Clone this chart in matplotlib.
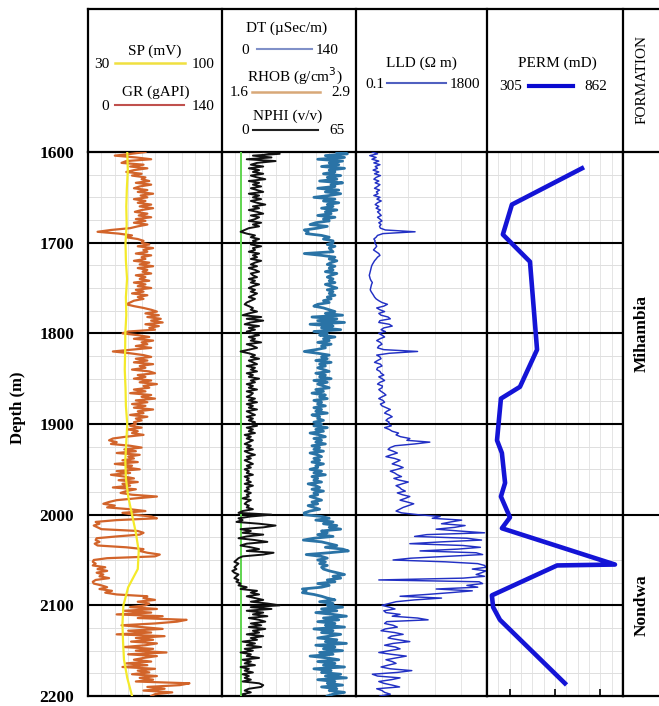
import numpy as np
import matplotlib
matplotlib.use("Agg")
import matplotlib.pyplot as plt

W, H = 659, 706
SERIF = ["Liberation Serif", "DejaVu Serif"]

# ---------------- log data (2 m sampling) ----------------
depth = np.arange(1600, 2201, 2)

gr = [60, 45, 28, 50, 66, 40, 35, 58, 44, 62,
      48, 40, 56, 46, 60, 56, 64, 50, 66, 54,
      48, 62, 52, 68, 55, 62, 48, 60, 52, 66,
      54, 68, 56, 49, 62, 53, 66, 50, 60, 48,
      62, 52, 44, 24, 10, 32, 46, 40, 52, 58,
      56, 64, 52, 68, 58, 62, 50, 66, 56, 60,
      48, 64, 54, 68, 52, 62, 57, 66, 50, 60,
      54, 64, 48, 60, 52, 66, 50, 58, 46, 62,
      52, 58, 48, 44, 40, 48, 58, 66, 72, 60,
      74, 62, 76, 66, 78, 60, 74, 64, 70, 42,
      36, 52, 64, 48, 68, 56, 62, 50, 66, 46,
      26, 44, 58, 66, 50, 62, 48, 68, 54, 60,
      46, 64, 70, 52, 60, 48, 66, 54, 72, 58,
      64, 48, 60, 44, 66, 56, 70, 50, 62, 46,
      60, 48, 68, 52, 58, 44, 62, 50, 56, 48,
      50, 44, 56, 42, 52, 46, 58, 40, 26, 22,
      30, 24, 44, 56, 38, 50, 30, 54, 42, 48,
      36, 52, 28, 46, 40, 54, 30, 44, 24, 38,
      48, 32, 52, 36, 44, 26, 50, 40, 34, 46,
      72, 50, 30, 22, 16, 28, 20, 44, 60, 36,
      48, 66, 72, 30, 8, 12, 6, 10, 14, 52,
      58, 54, 30, 9, 8, 12, 7, 10, 40, 58,
      54, 62, 75, 70, 20, 6, 5, 8, 5, 18,
      10, 20, 9, 16, 12, 22, 8, 5, 6, 14,
      20, 12, 25, 18, 30, 62, 58, 70, 52, 64,
      60, 44, 72, 38, 66, 30, 78, 52, 103, 93,
      70, 35, 56, 78, 42, 66, 30, 80, 50, 68,
      45, 72, 60, 38, 68, 50, 82, 42, 72, 58,
      48, 66, 40, 62, 36, 70, 52, 64, 46, 72,
      54, 68, 50, 106, 96, 62, 80, 58, 88, 70,
      66]

nphi = [20, 28, 15, 24, 12, 26, 17, 14, 20, 13,
        18, 15, 20, 14, 17, 21, 13, 18, 15, 19,
        14, 17, 20, 13, 18, 15, 19, 14, 17, 21,
        15, 18, 13, 17, 20, 14, 18, 16, 13, 19,
        15, 18, 13, 11, 9, 12, 16, 14, 18, 15,
        17, 14, 19, 15, 16, 13, 18, 15, 17, 14,
        19, 16, 14, 17, 13, 16, 18, 14, 15, 17,
        13, 16, 14, 18, 15, 13, 16, 14, 17, 15,
        13, 16, 14, 12, 11, 13, 15, 14, 17, 13,
        10, 19, 12, 20, 14, 11, 18, 13, 16, 12,
        15, 18, 13, 16, 14, 19, 12, 15, 17, 13,
        9, 13, 16, 14, 18, 13, 15, 17, 12, 16,
        14, 17, 12, 15, 13, 18, 14, 16, 12, 15,
        13, 17, 12, 15, 14, 12, 16, 13, 17, 12,
        15, 13, 17, 12, 14, 16, 12, 15, 13, 16,
        14, 17, 12, 15, 13, 16, 11, 14, 12, 15,
        13, 11, 14, 12, 15, 11, 13, 16, 12, 14,
        11, 13, 15, 12, 14, 11, 13, 12, 15, 11,
        13, 12, 14, 11, 15, 12, 13, 11, 14, 12,
        13, 10, 14, 12, 11, 13, 12, 15, 10, 8,
        24, 14, 8, 10, 7, 18, 26, 20, 9, 14,
        10, 20, 12, 8, 16, 22, 12, 9, 14, 18,
        12, 25, 20, 10, 8, 7, 6, 8, 7, 6,
        7, 5, 6, 8, 7, 6, 8, 7, 9, 8,
        12, 9, 17, 14, 18, 12, 16, 20, 14, 22,
        28, 14, 24, 12, 20, 15, 22, 13, 18, 21,
        14, 19, 13, 21, 15, 18, 12, 20, 14, 17,
        10, 16, 12, 19, 11, 15, 9, 14, 12, 18,
        10, 14, 11, 16, 9, 13, 11, 15, 10, 13,
        11, 14, 10, 18, 20, 19, 13, 11, 14, 10,
        12]

dt = [120, 131, 108, 128, 100, 126, 112, 122, 104, 128,
      112, 118, 106, 124, 110, 120, 102, 126, 114, 118,
      100, 122, 108, 124, 112, 96, 118, 106, 122, 110,
      116, 104, 120, 108, 114, 100, 118, 106, 112, 98,
      92, 110, 100, 86, 90, 88, 104, 112, 106, 116,
      116, 110, 118, 112, 114, 116, 86, 104, 118, 112,
      120, 114, 110, 118, 112, 116, 108, 120, 114, 110,
      116, 112, 118, 108, 114, 120, 110, 116, 112, 118,
      110, 114, 106, 112, 100, 96, 106, 112, 118, 108,
      126, 94, 120, 100, 128, 92, 116, 104, 124, 96,
      110, 102, 118, 106, 112, 100, 114, 104, 108, 98,
      86, 100, 112, 104, 110, 98, 114, 102, 108, 100,
      106, 112, 98, 108, 102, 114, 96, 110, 100, 106,
      112, 98, 106, 94, 108, 102, 110, 96, 104, 100,
      108, 96, 104, 98, 110, 94, 102, 100, 106, 96,
      104, 96, 110, 98, 106, 92, 102, 108, 96, 104,
      98, 108, 94, 102, 96, 106, 92, 100, 104, 96,
      102, 94, 106, 98, 100, 92, 104, 96, 108, 94,
      100, 96, 104, 90, 98, 102, 94, 106, 96, 100,
      92, 98, 104, 94, 100, 90, 96, 102, 92, 86,
      86, 104, 112, 98, 116, 106, 120, 112, 124, 104,
      110, 100, 116, 96, 85, 104, 112, 120, 108, 126,
      132, 112, 88, 104, 110, 100, 108, 102, 110, 104,
      106, 112, 120, 128, 116, 124, 110, 118, 100, 112,
      104, 84, 88, 84, 96, 104, 110, 118, 102, 116,
      110, 126, 104, 120, 98, 116, 130, 106, 122, 100,
      118, 108, 128, 96, 116, 104, 124, 112, 100, 120,
      108, 130, 98, 118, 106, 126, 102, 116, 92, 110,
      122, 100, 118, 106, 128, 96, 114, 104, 124, 108,
      130, 100, 118, 110, 126, 104, 120, 112, 128, 116,
      110]

lld = [0.34, 0.5, 0.28, 0.45, 0.33, 0.55, 0.38, 0.6, 0.42, 0.5,
       0.36, 0.55, 0.40, 0.62, 0.45, 0.38, 0.55, 0.42, 0.6, 0.5,
       0.40, 0.58, 0.46, 0.52, 0.38, 0.6, 0.48, 0.66, 0.5, 0.42,
       0.55, 0.45, 0.62, 0.5, 0.58, 0.66, 0.5, 0.6, 0.7, 0.55,
       0.65, 0.58, 0.62, 0.9, 8.3, 0.75, 0.5, 0.45, 0.38, 0.42,
       0.40, 0.44, 0.47, 0.42, 0.37, 0.45, 0.55, 0.6, 0.5, 0.45,
       0.40, 0.37, 0.34, 0.32, 0.31, 0.30, 0.29, 0.28, 0.27, 0.28,
       0.29, 0.31, 0.34, 0.32, 0.31, 0.30, 0.29, 0.31, 0.34, 0.37,
       0.40, 0.45, 0.55, 0.7, 1.05, 0.8, 0.47, 0.6, 0.85, 0.55,
       0.65, 1.1, 1.3, 0.6, 0.55, 1.2, 1.5, 0.8, 0.65, 0.9,
       0.55, 0.7, 0.85, 0.6, 0.47, 0.62, 0.7, 0.55, 0.5, 0.8,
       10, 1.2, 0.47, 0.6, 0.65, 0.5, 0.4, 0.62, 0.7, 0.5,
       0.47, 0.6, 0.65, 0.8, 0.55, 0.7, 0.85, 0.6, 0.5, 0.72,
       0.7, 0.55, 0.65, 0.8, 0.94, 0.7, 0.55, 0.75, 0.85, 0.62,
       0.7, 0.95, 1.3, 1.0, 0.85, 1.2, 1.5, 1.1, 0.94, 1.2,
       1.1, 1.4, 0.85, 1.2, 1.5, 2.4, 2.0, 2.8, 5.6, 4.5,
       25, 8, 1.85, 1.3, 1.1, 1.6, 2.2, 1.4, 0.94, 1.8,
       2.7, 2.0, 1.5, 2.4, 3.4, 2.2, 1.3, 1.8, 2.2, 3.0,
       1.7, 2.6, 5.0, 3.2, 2.0, 2.6, 3.0, 4.0, 2.2, 3.2,
       5.6, 4.0, 2.7, 4.6, 7.5, 5.0, 3.4, 2.6, 2.0, 3.0,
       10, 54, 30, 270, 120, 60, 350, 160, 40, 220,
       1500, 20, 8, 400, 1200, 60, 5.6, 300, 1100, 200,
       12, 800, 1300, 90, 6, 1.6, 80, 900, 1500, 1700,
       600, 1680, 1200, 800, 1500, 300, 0.55, 1000, 1300, 400,
       900, 40, 600, 120, 20, 2.7, 60, 8, 2.0, 1.2,
       0.7, 1.2, 1.85, 0.8, 0.94, 2.7, 1.5, 10, 22, 1.0,
       0.85, 1.6, 2.2, 0.9, 0.65, 1.8, 3.4, 1.4, 1.1, 2.4,
       5.6, 1.6, 0.85, 1.9, 2.7, 1.2, 0.55, 1.4, 4.3, 2.0,
       0.94, 1.5, 2.0, 1.1, 0.65, 1.3, 6.5, 2.2, 0.34, 0.5,
       2.7, 1.4, 0.55, 0.8, 1.5, 2.6, 0.47, 0.7, 0.85, 1.3,
       0.6]

sp_depth = np.arange(1600, 2201, 20)
sp = [50.5, 50.8, 50.3, 50.0, 50.2, 49.6, 49.8, 50.4, 49.8, 50.0,
      49.5, 49.4, 49.2, 49.6, 49.8, 50.5, 50.0, 49.5, 49.8, 51.0,
      53.0, 55.0, 56.5, 56.0, 51.0, 48.5, 48.0, 48.3, 48.8, 50.5, 53.0]

rhob_depth = [1600, 2200]
rhob = [1.785, 1.785]

perm_depth = [1618, 1658, 1691, 1721, 1818, 1859, 1872, 1918, 1932, 1965,
              1980, 2003, 2015, 2055, 2056, 2089, 2102, 2116, 2186]
perm = [694, 407, 370, 481, 510, 440, 362, 346, 366, 379,
        362, 399, 366, 829, 592, 325, 330, 358, 624]

depth_ticks = [1600, 1700, 1800, 1900, 2000, 2100, 2200]
formations = ["Mihambia", "Nondwa"]
formation_tops = [1600, 2000]
formation_bases = [2000, 2200]

# ---------------- layout (pixels) ----------------
fig = plt.figure(figsize=(W / 100, H / 100), dpi=100)
fig.patch.set_facecolor("white")

track_x = [88, 222, 356, 487, 623]
HEAD_TOP, LOG_TOP, LOG_BOT = 9, 152, 696
D0, D1 = 1600, 2200


def px_axes(x0, y0, x1, y1):
    return fig.add_axes([x0 / W, 1 - y1 / H, (x1 - x0) / W, (y1 - y0) / H])


def vline_frac(ax, f, **kw):
    ax.plot([f, f], [0, 1], transform=ax.transAxes, **kw)


def base_track(x0, x1, nvert):
    ax = px_axes(x0, LOG_TOP, x1, LOG_BOT)
    ax.set_ylim(D1, D0)
    ax.set_xlim(0, 1)
    ax.set_xticks([])
    ax.set_yticks([])
    for d in range(D0, D1 + 1, 25):
        if d % 100:
            ax.axhline(d, color="#d9d9d9", lw=0.6, zorder=0)
    for i in range(1, nvert):
        vline_frac(ax, i / nvert, color="#e0e0e0", lw=0.6, zorder=0)
    for d in range(D0 + 100, D1, 100):
        ax.axhline(d, color="black", lw=1.5, zorder=1)
    for s in ax.spines.values():
        s.set_linewidth(1.6)
    return ax


def curve_axis(base, lo, hi, scale="linear"):
    tw = base.twiny()
    tw.set_xscale(scale)
    tw.set_xlim(lo, hi)
    tw.set_ylim(D1, D0)
    tw.axis("off")
    return tw


# Track 1: SP and GR
t1 = base_track(track_x[0], track_x[1], 10)
t1.set_yticks(depth_ticks)
t1.set_yticklabels([str(d) for d in depth_ticks], family=SERIF, fontweight="bold", fontsize=12.5)
t1.tick_params(axis="y", length=0, pad=10)
g_ax = curve_axis(t1, 0, 140)
g_ax.plot(gr, depth, color="#d2642a", lw=1.6)
s_ax = curve_axis(t1, 30, 100)
s_ax.plot(sp, sp_depth, color="#f4ea2a", lw=1.6)

# Track 2: DT, RHOB, NPHI
t2 = base_track(track_x[1], track_x[2], 10)
r_ax = curve_axis(t2, 1.6, 2.9)
r_ax.plot(rhob, rhob_depth, color="#5fd44f", lw=1.4)
n_ax = curve_axis(t2, 0, 65)
n_ax.plot(nphi, depth, color="#111111", lw=1.4)
d_ax = curve_axis(t2, 0, 140)
d_ax.plot(dt, depth, color="#2a73a6", lw=2.0)

# Track 3: LLD (log scale)
t3 = base_track(track_x[2], track_x[3], 5)
l_ax = curve_axis(t3, 0.1, 1800, "log")
l_ax.plot(lld, depth, color="#2230c4", lw=1.05)

# Track 4: PERM
t4 = base_track(track_x[3], track_x[4], 12)
t4.set_xticks([1 / 6, 1 / 2, 5 / 6])
t4.set_xticklabels([])
t4.tick_params(axis="x", direction="in", length=5, width=1.2, top=True, bottom=True)
p_ax = curve_axis(t4, 305, 862)
p_ax.plot(perm, perm_depth, color="#1414d6", lw=3.3, solid_joinstyle="round")

# Formation column
fm = px_axes(track_x[4], LOG_TOP, W + 30, LOG_BOT)
fm.set_ylim(D1, D0)
fm.set_xlim(0, 1)
fm.set_xticks([])
fm.set_yticks([])
fm.spines["right"].set_visible(False)
for s in fm.spines.values():
    s.set_linewidth(1.6)
for top, base, name in zip(formation_tops, formation_bases, formations):
    if top > D0:
        fm.axhline(top, color="black", lw=1.5)
    fm.text(19 / (W + 30 - track_x[4]), (top + base) / 2, name, rotation=90,
            ha="center", va="center", family=SERIF, fontweight="bold", fontsize=12.5)

# ---------------- header ----------------
ov = fig.add_axes([0, 0, 1, 1])
ov.set_xlim(0, W)
ov.set_ylim(H, 0)
ov.axis("off")
ov.patch.set_visible(False)

ov.plot([track_x[0], W], [HEAD_TOP, HEAD_TOP], color="black", lw=1.6)
for x in track_x:
    ov.plot([x, x], [HEAD_TOP, LOG_TOP], color="black", lw=1.6)

hfont = dict(family=SERIF, fontsize=11, va="center")


def legend_entry(title, tx, ty, lo, hi, lx0, lx1, ly, color, lw, lo_x, hi_x):
    ov.text(tx, ty, title, ha="center", **hfont)
    ov.plot([lx0, lx1], [ly, ly], color=color, lw=lw)
    ov.text(lo_x, ly + 1, lo, ha="right", **hfont)
    ov.text(hi_x, ly + 1, hi, ha="left", **hfont)


legend_entry("SP (mV)", 155, 51, "30", "100", 115, 185, 63, "#f0e040", 1.8, 109, 192)
legend_entry("GR (gAPI)", 156, 92, "0", "140", 115, 184, 105, "#c0504d", 1.5, 109, 192)
legend_entry("DT (\u00b5Sec/m)", 287, 28, "0", "140", 257, 312, 49, "#8090c8", 1.5, 249, 316)
legend_entry("RHOB (g/cm$^3$)", 295, 76, "1.6", "2.9", 252, 320, 92, "#d8a878", 1.8, 249, 331)
legend_entry("NPHI (v/v)", 288, 116, "0", "65", 253, 318, 130, "#222222", 1.5, 249, 329)
legend_entry("LLD (\u03a9 m)", 421, 63, "0.1", "1800", 387, 446, 83, "#5060c0", 1.5, 384, 450)
legend_entry("PERM (mD)", 557, 63, "305", "862", 529, 573, 86, "#0a0ad0", 3.0, 522, 584)

ov.text(642, 80, "FORMATION", rotation=90, ha="center", **hfont)
ov.text(18, 408, "Depth (m)", rotation=90, ha="center", va="center",
        family=SERIF, fontweight="bold", fontsize=12)

fig.savefig("out.png", dpi=100, facecolor="white")
